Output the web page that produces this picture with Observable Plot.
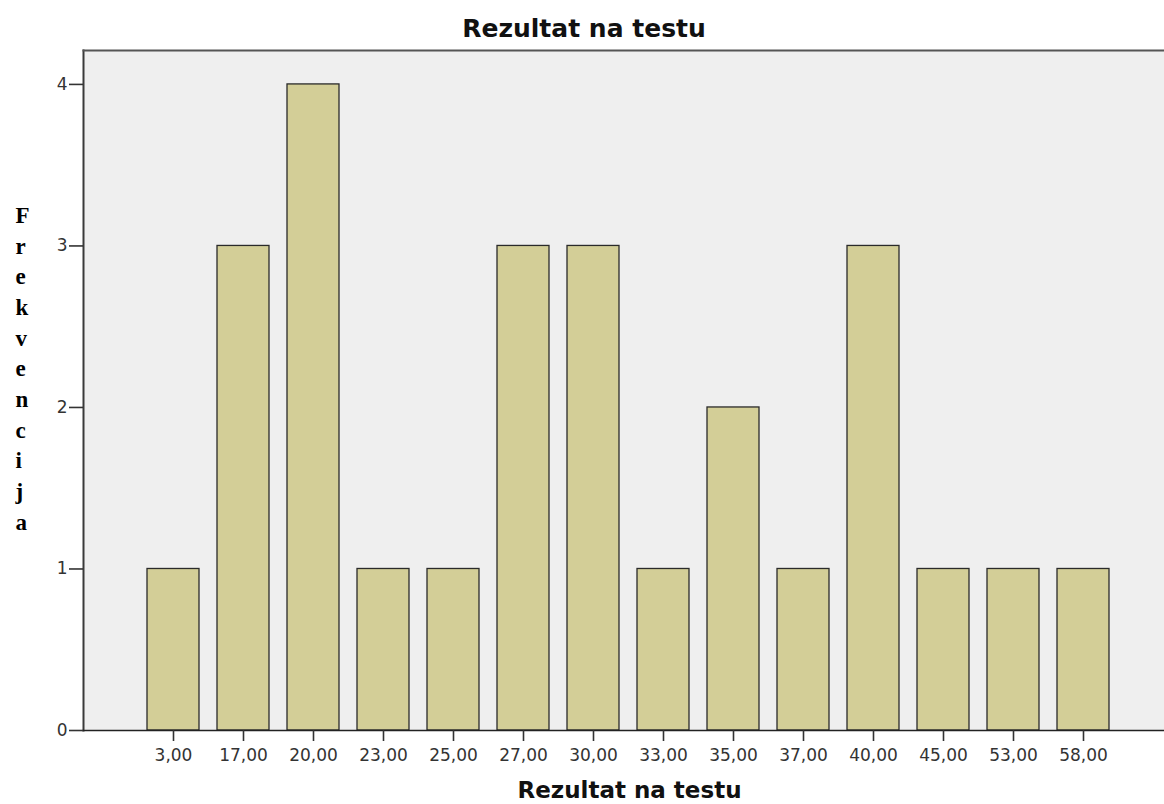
<!DOCTYPE html>
<html>
<head>
<meta charset="utf-8">
<script src="https://cdn.jsdelivr.net/npm/d3@7"></script>
<script src="https://cdn.jsdelivr.net/npm/@observablehq/plot@0.6"></script>
<style>
  html, body { margin: 0; padding: 0; background: #fff; }
  #chart svg { display: block; }
</style>
</head>
<body>
<div id="chart"></div>
<script>
const categories = ["3,00", "17,00", "20,00", "23,00", "25,00", "27,00", "30,00", "33,00", "35,00", "37,00", "40,00", "45,00", "53,00", "58,00"];
const counts = [1, 3, 4, 1, 1, 3, 3, 1, 2, 1, 3, 1, 1, 1];
const yTicks = [0, 1, 2, 3, 4];
const chartTitle = "Rezultat na testu";
const xLabel = "Rezultat na testu";
const yLabel = "Frekvencija";

const data = categories.map((c, i) => ({score: c, count: counts[i]}));
const yMax = 4.21;

const sans = "'DejaVu Sans', Verdana, sans-serif";
const serif = "'Liberation Serif', 'Times New Roman', serif";

const chart = Plot.plot({
  width: 1164,
  height: 804,
  marginLeft: 83,
  marginRight: 0,
  marginTop: 50,
  marginBottom: 74,
  style: {background: "#fff", fontFamily: sans},
  x: {type: "band", domain: categories, range: [75.85, 1180.05], paddingInner: 0.26, paddingOuter: 1, label: null},
  y: {domain: [0, yMax], label: null},
  marks: [
    Plot.frame({fill: "#efefef", stroke: null}),
    Plot.barY(data, {x: "score", y: "count", fill: "#d3ce97", stroke: "#2a2a2a", strokeWidth: 1.3}),
    Plot.frame({anchor: "left", stroke: "#3a3a3a", strokeWidth: 2}),
    Plot.frame({anchor: "bottom", stroke: "#222", strokeWidth: 1.6}),
    Plot.frame({anchor: "top", stroke: "#555", strokeWidth: 2}),
    Plot.axisY({ticks: yTicks, tickFormat: d => String(d), tickSize: 14, tickPadding: 2, fontSize: 17, fill: "#333", stroke: "#333", strokeWidth: 1.6, label: null}),
    Plot.axisX({tickSize: 11, tickPadding: 7, fontSize: 17, fill: "#333", stroke: "#333", strokeWidth: 1.6, label: null}),
    Plot.text([chartTitle], {frameAnchor: "top", lineAnchor: "top", dx: -40, dy: -31.5, fontSize: 25, fontWeight: "bold", fill: "#111"}),
    Plot.text([xLabel], {frameAnchor: "bottom", lineAnchor: "top", dx: 5.5, dy: 51, fontSize: 23, fontWeight: "bold", fill: "#111"}),
    Plot.text([yLabel.split("").join("\n")], {frameAnchor: "left", dx: -68, dy: -24, textAnchor: "start", lineHeight: 1.335, fontSize: 23, fontWeight: "bold", fontFamily: serif, fill: "#000"})
  ]
});
document.getElementById("chart").appendChild(chart);
</script>
</body>
</html>
